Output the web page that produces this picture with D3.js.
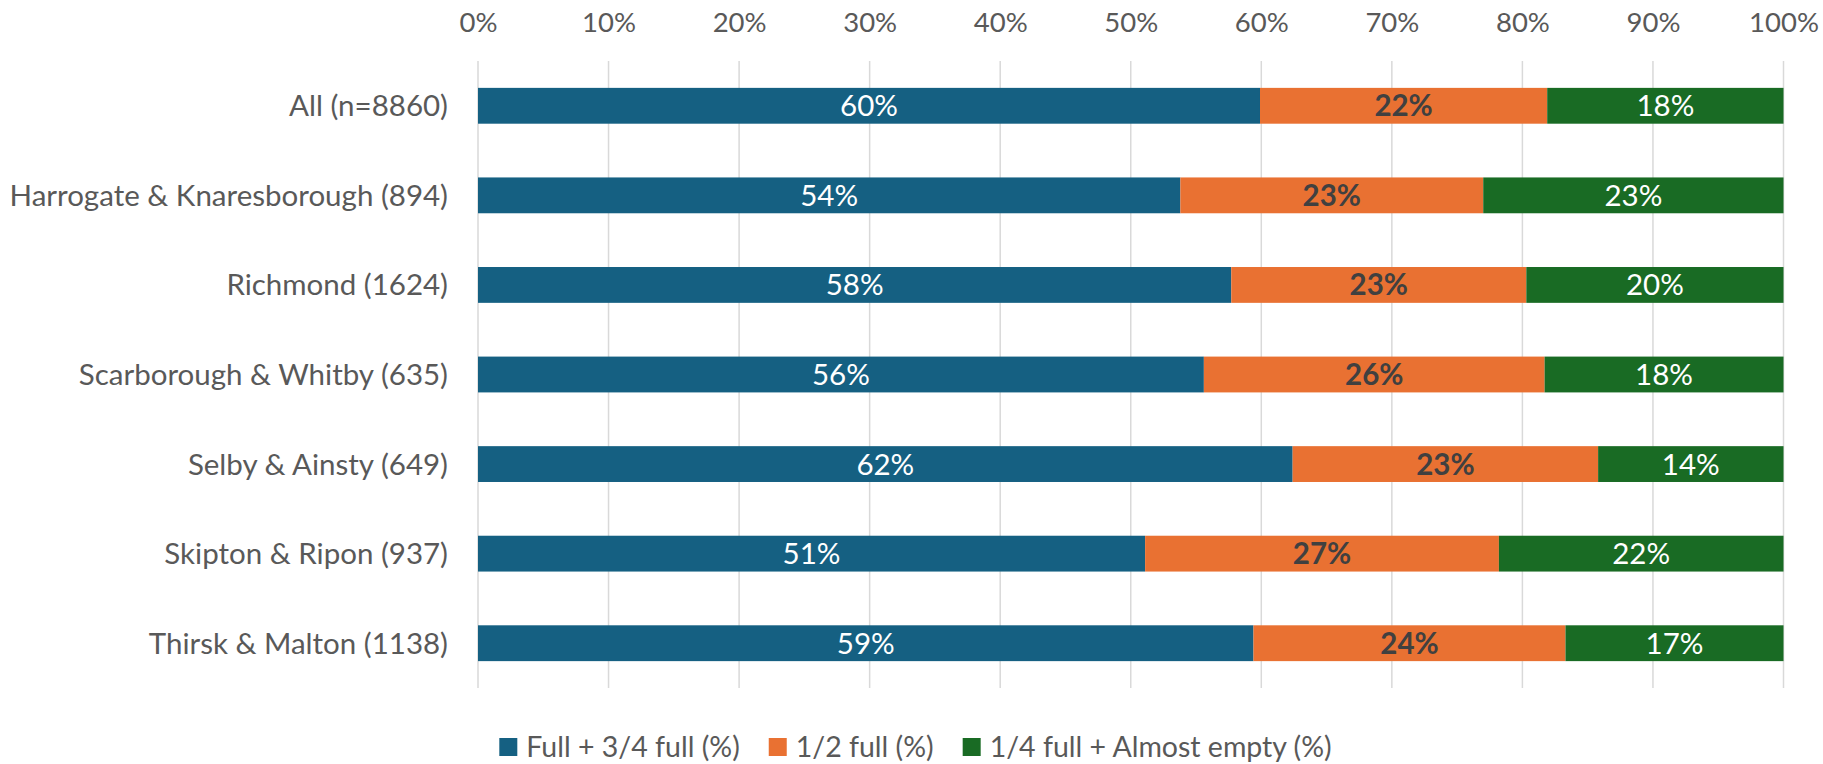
<!DOCTYPE html>
<html>
<head>
<meta charset="utf-8">
<script src="https://cdn.jsdelivr.net/npm/d3@7"></script>
<style>
  body { margin: 0; background: #fff; }
  text { font-family: Lato, "Liberation Sans", sans-serif; }
</style>
</head>
<body>
<div id="chart"></div>
<script>
var categories = ['All (n=8860)', 'Harrogate & Knaresborough (894)', 'Richmond (1624)',
  'Scarborough & Whitby (635)', 'Selby & Ainsty (649)', 'Skipton & Ripon (937)', 'Thirsk & Malton (1138)']
var seriesNames = ['Full + 3/4 full (%)', '1/2 full (%)', '1/4 full + Almost empty (%)']
var fullValues = [59.9, 53.8, 57.7, 55.6, 62.4, 51.1, 59.4]
var halfValues = [22.0, 23.2, 22.6, 26.1, 23.4, 27.1, 23.9]
var emptyValues = [18.1, 23.0, 19.7, 18.3, 14.2, 21.8, 16.7]
var tickValues = [0, 10, 20, 30, 40, 50, 60, 70, 80, 90, 100]

var colors = ['#156082', '#E97132', '#196B24']
var labelColors = ['#ffffff', '#404040', '#ffffff']
var labelWeights = ['normal', 'bold', 'normal']

var width = 1823
var height = 764

var svg = d3.select('#chart').append('svg')
  .attr('width', width)
  .attr('height', height)

var xScale = d3.scaleLinear().domain([0, 100]).range([478, 1783.5])
var yScale = d3.scaleBand().domain(categories).range([61, 688])
  .paddingInner(0.6).paddingOuter(0.3)

// gridlines
svg.append('g')
  .selectAll('line')
  .data(tickValues)
  .join('line')
  .attr('x1', d => xScale(d))
  .attr('x2', d => xScale(d))
  .attr('y1', 61)
  .attr('y2', 688)
  .attr('stroke', '#d9d9d9')
  .attr('stroke-width', 1.5)

// top axis
var xAxis = d3.axisTop(xScale).tickValues(tickValues).tickSize(0).tickPadding(0)
  .tickFormat(d => d + '%')
var gx = svg.append('g')
  .attr('transform', 'translate(0,32)')
  .call(xAxis)
gx.select('.domain').remove()
gx.selectAll('text')
  .attr('dy', null)
  .attr('y', 0)
  .attr('fill', '#595959')
  .attr('font-size', 27.5)
  .attr('font-family', 'Lato, "Liberation Sans", sans-serif')

// stacked data
var stackData = categories.map(function (c, i) {
  return { category: c, s0: fullValues[i], s1: halfValues[i], s2: emptyValues[i] }
})
var series = d3.stack().keys(['s0', 's1', 's2'])(stackData)

var layers = svg.append('g')
  .selectAll('g')
  .data(series)
  .join('g')
  .attr('fill', (d, i) => colors[i])

layers.selectAll('rect')
  .data(d => d)
  .join('rect')
  .attr('x', d => xScale(d[0]))
  .attr('width', d => xScale(d[1]) - xScale(d[0]))
  .attr('y', d => yScale(d.data.category))
  .attr('height', yScale.bandwidth())

// segment labels
series.forEach(function (s, i) {
  svg.append('g')
    .selectAll('text')
    .data(s)
    .join('text')
    .attr('x', d => xScale((d[0] + d[1]) / 2))
    .attr('y', d => yScale(d.data.category) + yScale.bandwidth() / 2 + 10.5)
    .attr('text-anchor', 'middle')
    .attr('font-size', 29.5)
    .attr('font-weight', labelWeights[i])
    .attr('fill', labelColors[i])
    .text(d => Math.round(d[1] - d[0]) + '%')
})

// category labels
var yAxis = d3.axisLeft(yScale).tickSize(0).tickPadding(0)
var gy = svg.append('g')
  .attr('transform', 'translate(448,0)')
  .call(yAxis)
gy.select('.domain').remove()
gy.selectAll('text')
  .attr('dy', null)
  .attr('y', 10.5)
  .attr('fill', '#595959')
  .attr('font-size', 29.5)
  .attr('font-family', 'Lato, "Liberation Sans", sans-serif')

// legend
var legend = svg.append('g')
var lx = 0
seriesNames.forEach(function (name, i) {
  var item = legend.append('g').attr('transform', 'translate(' + lx + ',0)')
  item.append('rect')
    .attr('x', 0).attr('y', -18.5)
    .attr('width', 18).attr('height', 18)
    .attr('fill', colors[i])
  var t = item.append('text')
    .attr('x', 27).attr('y', 0)
    .attr('font-size', 28.5)
    .attr('fill', '#595959')
    .text(name)
  lx += 27 + t.node().getComputedTextLength() + 29
})
var legendWidth = lx - 29
legend.attr('transform', 'translate(' + (915.5 - legendWidth / 2) + ',756.5)')
</script>
</body>
</html>
